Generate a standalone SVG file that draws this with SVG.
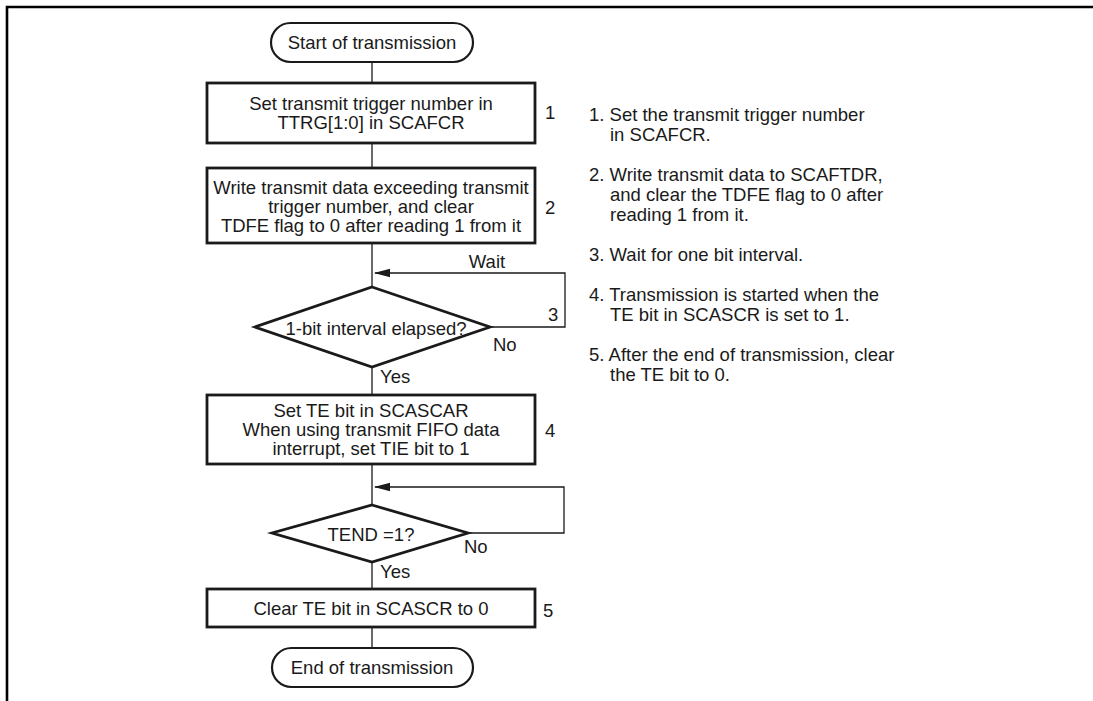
<svg xmlns="http://www.w3.org/2000/svg" width="1093" height="701" viewBox="0 0 1093 701">
<defs>
<marker id="ah" markerWidth="16" markerHeight="10" refX="15" refY="5" orient="auto" markerUnits="userSpaceOnUse">
<path d="M0,0.8 L16,5 L0,9.2 Z" fill="#1a1a1a"/>
</marker>
</defs>
<style>
text{font-family:"Liberation Sans",Arial,Helvetica,sans-serif;font-size:18.5px;fill:#1a1a1a}
.c{text-anchor:middle}
.box{fill:#fff;stroke:#1a1a1a;stroke-width:2.8}
.term{fill:#fff;stroke:#1a1a1a;stroke-width:2.2}
.dia{fill:#fff;stroke:#1a1a1a;stroke-width:2.8}
.ln{fill:none;stroke:#1a1a1a;stroke-width:1.3}
.frame{fill:none;stroke:#000;stroke-width:2.6}
</style>
<rect width="1093" height="701" fill="#fff"/>
<path class="frame" d="M7,701 V7 H1093"/>
<g id="connectors">
<line class="ln" x1="372" y1="62" x2="372" y2="83"/>
<line class="ln" x1="372" y1="143" x2="372" y2="168"/>
<line class="ln" x1="372" y1="243" x2="372" y2="287"/>
<polyline class="ln" points="490,327 565,327 565,273 375,273" marker-end="url(#ah)"/>
<line class="ln" x1="372" y1="367" x2="372" y2="395"/>
<line class="ln" x1="372" y1="464" x2="372" y2="505"/>
<polyline class="ln" points="468,533 564,533 564,487 375,487" marker-end="url(#ah)"/>
<line class="ln" x1="372" y1="562" x2="372" y2="589"/>
<line class="ln" x1="372" y1="627" x2="372" y2="648"/>
<text x="487" y="268" class="c">Wait</text>
<text x="548" y="321">3</text>
<text x="493" y="351">No</text>
<text x="380" y="383">Yes</text>
<text x="464" y="553">No</text>
<text x="380" y="578">Yes</text>
</g>
<g id="start">
<rect class="term" x="271" y="23" width="202" height="39" rx="19.5"/>
<text x="372" y="49" class="c">Start of transmission</text>
</g>
<g id="step1">
<rect class="box" x="207" y="83" width="328" height="60"/>
<text x="371" y="110" class="c">Set transmit trigger number in</text>
<text x="371" y="129" class="c">TTRG[1:0] in SCAFCR</text>
<text x="545" y="119">1</text>
</g>
<g id="step2">
<rect class="box" x="207" y="168" width="328" height="75"/>
<text x="371" y="194" class="c">Write transmit data exceeding transmit</text>
<text x="371" y="213" class="c">trigger number, and clear</text>
<text x="371" y="232" class="c">TDFE flag to 0 after reading 1 from it</text>
<text x="545" y="214">2</text>
</g>
<g id="decision1">
<polygon class="dia" points="372,287 490,327 372,367 255,327"/>
<text x="376" y="335" class="c">1-bit interval elapsed?</text>
</g>
<g id="step4">
<rect class="box" x="207" y="395" width="328" height="69"/>
<text x="371" y="417" class="c">Set TE bit in SCASCAR</text>
<text x="371" y="436" class="c">When using transmit FIFO data</text>
<text x="371" y="455" class="c">interrupt, set TIE bit to 1</text>
<text x="545" y="437">4</text>
</g>
<g id="decision2">
<polygon class="dia" points="372,505 468,533 372,562 272,533"/>
<text x="371" y="541" class="c">TEND =1?</text>
</g>
<g id="step5">
<rect class="box" x="207" y="589" width="328" height="38"/>
<text x="371" y="615" class="c">Clear TE bit in SCASCR to 0</text>
<text x="543" y="617">5</text>
</g>
<g id="end">
<rect class="term" x="272" y="648" width="201" height="39" rx="19.5"/>
<text x="372" y="674" class="c">End of transmission</text>
</g>
<g id="notes">
<text x="589" y="121">1. Set the transmit trigger number</text>
<text x="610" y="141">in SCAFCR.</text>
<text x="589" y="181">2. Write transmit data to SCAFTDR,</text>
<text x="610" y="201">and clear the TDFE flag to 0 after</text>
<text x="610" y="221">reading 1 from it.</text>
<text x="589" y="261">3. Wait for one bit interval.</text>
<text x="589" y="301">4. Transmission is started when the</text>
<text x="610" y="321">TE bit in SCASCR is set to 1.</text>
<text x="589" y="361">5. After the end of transmission, clear</text>
<text x="610" y="381">the TE bit to 0.</text>
</g>
</svg>
